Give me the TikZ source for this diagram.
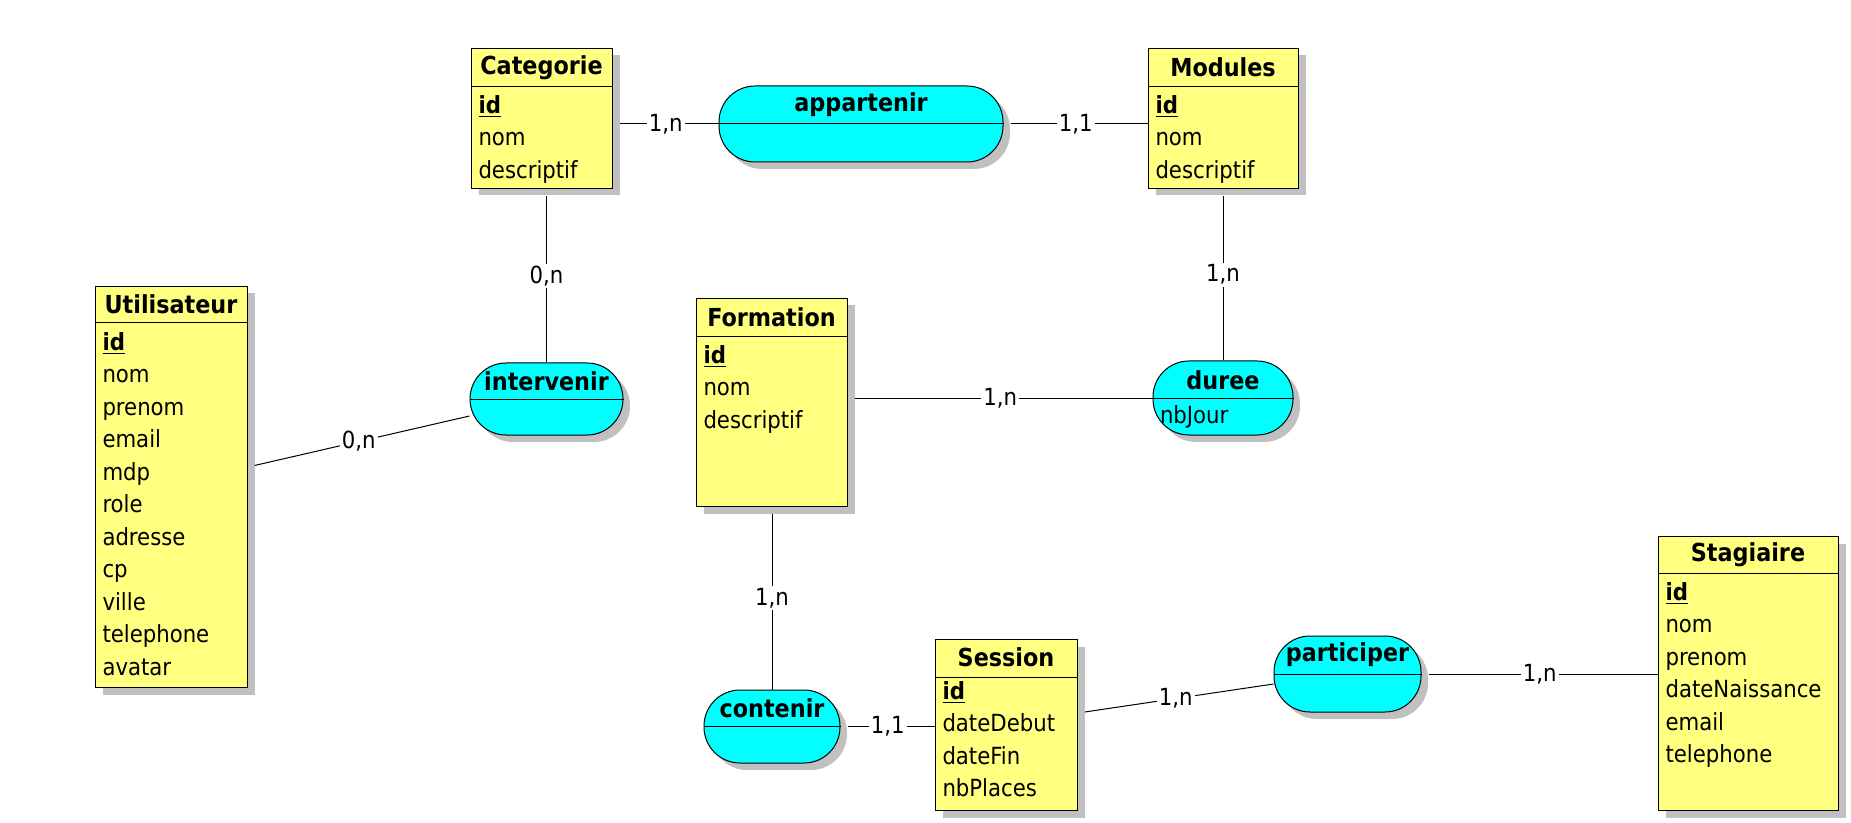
\documentclass[tikz,border=0pt]{standalone}
\usepackage{fontspec}
\setmainfont{DejaVu Sans Condensed}
\usetikzlibrary{shadows}
\definecolor{entyellow}{RGB}{255,255,128}
\definecolor{assocyan}{RGB}{0,255,255}
\definecolor{shadowgray}{RGB}{192,192,192}
\begin{document}
\begin{tikzpicture}[x=0.5pt,y=-0.5pt,line width=0.5pt,
        entity/.style={draw,fill=entyellow,anchor=north west,inner sep=0pt,
            drop shadow={shadow xshift=3.5pt,shadow yshift=-3.5pt,fill=shadowgray,opacity=1}},
        assoc/.style={draw,fill=assocyan,rounded corners=18pt,inner sep=0pt,
            drop shadow={shadow xshift=3.5pt,shadow yshift=-3.5pt,fill=shadowgray,opacity=1}},
        title/.style={inner sep=0pt,font=\fontsize{12.4}{14}\selectfont\bfseries},
        attrs/.style={anchor=north west,align=left,inner sep=0pt,font=\fontsize{11.8}{16.25}\selectfont},
        link/.style={shorten <=3.5pt},
        card/.style={fill=white,inner sep=1pt,font=\fontsize{11.8}{14}\selectfont}]
        \useasboundingbox (0,0) rectangle (1851,823);
        % entites
        \node[entity,minimum width=70.5pt,minimum height=70pt] (cat) at (471,48) {};
        \node[title] (catT) at (541.5,67.5) {Categorie};
        \draw ([yshift=-19.5pt]cat.north west) -- ([yshift=-19.5pt]cat.north east);
        \node[attrs] (catA) at (478,95) {\underline{\textbf{id}}\\nom\\descriptif};
        \node[entity,minimum width=75pt,minimum height=70pt] (mod) at (1148,48) {};
        \node[title] (modT) at (1223,67.5) {Modules};
        \draw ([yshift=-19.5pt]mod.north west) -- ([yshift=-19.5pt]mod.north east);
        \node[attrs] (modA) at (1155,95) {\underline{\textbf{id}}\\nom\\descriptif};
        \node[entity,minimum width=76pt,minimum height=200.5pt] (utl) at (95,286) {};
        \node[title] (utlT) at (171,304.5) {Utilisateur};
        \draw ([yshift=-18.5pt]utl.north west) -- ([yshift=-18.5pt]utl.north east);
        \node[attrs] (utlA) at (102,332) {\underline{\textbf{id}}\\nom\\prenom\\email\\mdp\\role\\adresse\\cp\\ville\\telephone\\avatar};
        \node[entity,minimum width=75.5pt,minimum height=104pt] (form) at (696,298) {};
        \node[title] (formT) at (771.5,317.5) {Formation};
        \draw ([yshift=-19.5pt]form.north west) -- ([yshift=-19.5pt]form.north east);
        \node[attrs] (formA) at (703,345) {\underline{\textbf{id}}\\nom\\descriptif};
        \node[entity,minimum width=71pt,minimum height=85.5pt] (sess) at (935,639) {};
        \node[title] (sessT) at (1006,657) {Session};
        \draw ([yshift=-19pt]sess.north west) -- ([yshift=-19pt]sess.north east);
        \node[attrs] (sessA) at (942,681) {\underline{\textbf{id}}\\dateDebut\\dateFin\\nbPlaces};
        \node[entity,minimum width=90pt,minimum height=137pt] (stag) at (1658,536) {};
        \node[title] (stagT) at (1748,554.5) {Stagiaire};
        \draw ([yshift=-18.5pt]stag.north west) -- ([yshift=-18.5pt]stag.north east);
        \node[attrs] (stagA) at (1665,582) {\underline{\textbf{id}}\\nom\\prenom\\dateNaissance\\email\\telephone};
        % associations
        \node[assoc,minimum width=142pt,minimum height=38pt] (app) at (861,124) {};
        \draw (app.west) -- (app.east);
        \node[title] (appT) at ([yshift=9.5pt]app.center) {appartenir};
        \node[assoc,minimum width=76.5pt,minimum height=36pt] (int) at (546.5,399) {};
        \draw (int.west) -- (int.east);
        \node[title] (intT) at ([yshift=9pt]int.center) {intervenir};
        \node[assoc,minimum width=70pt,minimum height=37pt] (duree) at (1223,398) {};
        \draw (duree.west) -- (duree.east);
        \node[title] (dureeT) at ([yshift=9pt]duree.center) {duree};
        \node[attrs,anchor=west] (dureeA) at ([xshift=3.5pt,yshift=-9.5pt]duree.west) {nbJour};
        \node[assoc,minimum width=68pt,minimum height=36.5pt] (cont) at (772,726.5) {};
        \draw (cont.west) -- (cont.east);
        \node[title] (contT) at ([yshift=9pt]cont.center) {contenir};
        \node[assoc,minimum width=73.5pt,minimum height=38pt] (part) at (1347.5,674) {};
        \draw (part.west) -- (part.east);
        \node[title] (partT) at ([yshift=9.5pt]part.center) {participer};
        % liens
        \draw[link] (cat.east |- app.west) -- node[card] (c1) {1,n} (app.west);
        \draw[link] (app.east) -- node[card] (c2) {1,1} (app.east -| mod.west);
        \draw[link] (int.north |- cat.south) -- node[card] (c3) {0,n} (int.north);
        \draw[link] (duree.north |- mod.south) -- node[card] (c4) {1,n} (duree.north);
        \draw[link] (form.east |- duree.west) -- node[card] (c5) {1,n} (duree.west);
        \draw[link] (cont.north |- form.south) -- node[card] (c6) {1,n} (cont.north);
        \draw[link] (cont.east) -- node[card] (c7) {1,1} (cont.east -| sess.west);
        \draw[link] ([yshift=6pt]sess.east) -- node[card] (c8) {1,n} ([yshift=-5pt]part.west);
        \draw[link] (part.east) -- node[card] (c9) {1,n} (part.east -| stag.west);
        \draw[link] ([yshift=10pt]utl.east) -- node[card] (c10) {0,n} ([yshift=-8.5pt]int.west);
    \end{tikzpicture}
\end{document}
